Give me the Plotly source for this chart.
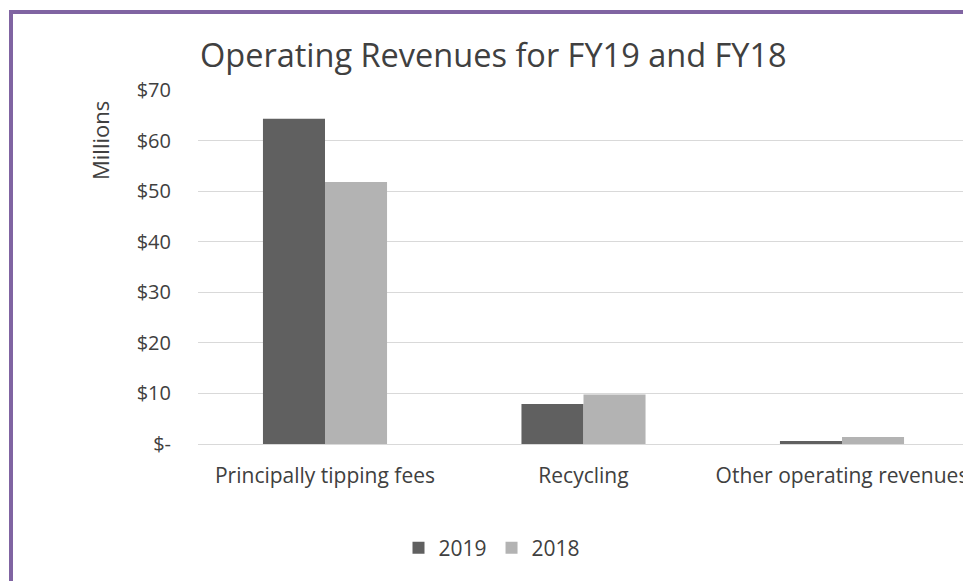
import plotly.graph_objects as go

categories = ["Principally tipping fees", "Recycling", "Other operating revenues"]
fy2019 = [64.3, 7.9, 0.6]
fy2018 = [51.8, 9.8, 1.4]
tick_vals = [0, 10, 20, 30, 40, 50, 60, 70]
tick_text = ["$-", "$10", "$20", "$30", "$40", "$50", "$60", "$70"]

W, H = 963, 581
L, R, T, B = 198, 0, 90, 137
pw = W - L - R
ph = H - T - B

FONT = "'Open Sans', Carlito, Calibri, sans-serif"
TXT = "#404040"

fig = go.Figure()
fig.add_trace(go.Bar(name="2019", x=categories, y=fy2019, marker=dict(color="#606060", line=dict(width=0))))
fig.add_trace(go.Bar(name="2018", x=categories, y=fy2018, marker=dict(color="#b3b3b3", line=dict(width=0))))

def px_x(p):
    return (p - L) / pw

def px_y(p):
    return (H - B - p) / ph

spacing = 258.5
start = -(325 - L) / spacing
fig.update_layout(
    width=W, height=H,
    margin=dict(l=L, r=R, t=T, b=B, autoexpand=False),
    paper_bgcolor="white", plot_bgcolor="white",
    barmode="group", bargap=0.52, bargroupgap=0,
    font=dict(family=FONT, color=TXT, size=20),
    showlegend=True,
    legend=dict(orientation="h", x=px_x(492), xanchor="center", y=px_y(548), yanchor="middle",
                font=dict(size=21, color=TXT), itemwidth=30, traceorder="normal"),
    xaxis=dict(range=[start, start + pw / spacing], showgrid=False, showline=False, ticks="",
               tickfont=dict(size=21, color=TXT), ticklabelstandoff=17),
    yaxis=dict(range=[0, 70], tickvals=tick_vals, ticktext=tick_text, showgrid=True,
               gridcolor="#d9d9d9", gridwidth=1, zeroline=True, zerolinecolor="#d9d9d9",
               zerolinewidth=1, showline=False, ticks="", tickfont=dict(size=20, color=TXT),
               ticklabelstandoff=26),
)

fig.add_annotation(text="Operating Revenues for FY19 and FY18", xref="paper", yref="paper",
                   x=0, xanchor="left", y=px_y(54), yanchor="middle", showarrow=False,
                   font=dict(size=32.5, color=TXT, family=FONT))
fig.add_annotation(text="Millions", xref="paper", yref="paper", x=px_x(100), y=px_y(141),
                   xanchor="center", yanchor="middle", textangle=-90, showarrow=False,
                   font=dict(size=22, color=TXT, family=FONT))

purple = "#8064a2"
fig.add_shape(type="line", xref="paper", yref="paper", x0=px_x(11), x1=px_x(11),
              y0=px_y(10), y1=px_y(H + 5), line=dict(color=purple, width=4))
fig.add_shape(type="line", xref="paper", yref="paper", x0=px_x(9), x1=px_x(W + 5),
              y0=px_y(12), y1=px_y(12), line=dict(color=purple, width=4))

fig.write_html("out.html", config={"displayModeBar": False},
               post_script="document.body.style.margin='0';document.body.style.overflow='hidden';")
